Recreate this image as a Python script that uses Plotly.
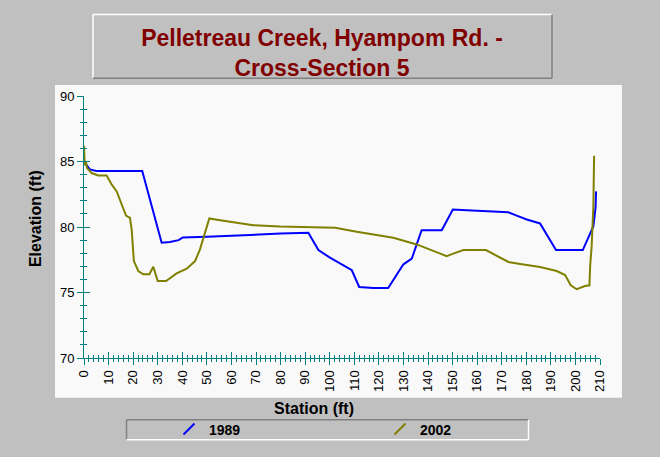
import plotly.graph_objects as go

# ---- data ----
station_1989 = [0, 2.4, 5, 23.7, 31.6, 35, 38.5, 40.2, 50, 60, 70, 80, 91.3, 95.4, 100.1,
                107.6, 109, 112, 117.7, 123.8, 130, 133.4, 137.4, 145.6, 150.1, 155.8, 161.2,
                167.3, 172.7, 176.1, 180.2, 185.6, 192.1, 203, 206, 207.3, 208.2, 208.4]
elev_1989 = [85.0, 84.4, 84.27, 84.27, 78.8, 78.85, 79.0, 79.2, 79.25, 79.35, 79.43, 79.5,
             79.56, 78.24, 77.66, 76.9, 76.7, 75.42, 75.35, 75.35, 77.15, 77.58, 79.76, 79.76,
             81.33, 81.28, 81.23, 81.13, 81.13, 80.87, 80.57, 80.27, 78.24, 78.24, 79.56,
             80.06, 81.5, 82.72]

station_2002 = [0, 0.3, 0.8, 1.2, 3.1, 5.8, 9.2, 11.3, 13.3, 15.3, 17.1, 18.7, 19.4, 20.3,
                22.1, 24.1, 26.6, 28.2, 30, 33.4, 37.7, 41.8, 45.2, 47.2, 51, 55.4, 62.2, 68.9,
                79.8, 87.9, 102.2, 111, 125.9, 135.4, 147.6, 150, 154.4, 163.6, 168, 172.7,
                177.5, 185.6, 192.4, 195.8, 198.1, 200.5, 203.9, 205.7, 206, 206.6, 207.3, 207.6]
elev_2002 = [86.2, 84.7, 85.0, 84.5, 84.12, 83.94, 83.94, 83.23, 82.72, 81.71, 80.87, 80.7,
             79.81, 77.4, 76.64, 76.39, 76.39, 76.97, 75.88, 75.88, 76.46, 76.82, 77.4, 78.29,
             80.65, 80.52, 80.32, 80.14, 80.04, 79.99, 79.94, 79.63, 79.18, 78.67, 77.78,
             77.95, 78.24, 78.24, 77.78, 77.33, 77.18, 76.95, 76.64, 76.33, 75.55, 75.25,
             75.5, 75.55, 77.02, 78.54, 81.58, 85.44]

series_names = ["1989", "2002"]
series_colors = ["#0000FF", "#808000"]

x_range = [0, 210]
y_range = [70, 90]

TEAL = "#008080"
FONT = "Arial, Liberation Sans, sans-serif"

fig = go.Figure()
for name, xs, ys, col in [(series_names[0], station_1989, elev_1989, series_colors[0]),
                          (series_names[1], station_2002, elev_2002, series_colors[1])]:
    fig.add_trace(go.Scatter(x=xs, y=ys, mode="lines", name=name,
                             line=dict(color=col, width=2), showlegend=False))
    # legend-only entry with a slash symbol (no data drawn), placed on the overlay axes
    fig.add_trace(go.Scatter(x=[None], y=[None], mode="markers", name=name,
                             xaxis="x2", yaxis="y2",
                             marker=dict(symbol="line-ne", size=11,
                                         line=dict(color=col, width=2)),
                             showlegend=True))

axis_common = dict(showgrid=False, zeroline=False, tickcolor=TEAL, tickwidth=1)

fig.update_layout(
    width=660, height=457,
    margin=dict(l=84, r=60, t=96, b=97),
    paper_bgcolor="#C0C0C0",
    plot_bgcolor="rgba(0,0,0,0)",
    font=dict(family=FONT, color="black", size=13),
    title=dict(text="Pelletreau Creek, Hyampom Rd. -<br>Cross-Section 5",
               x=322 / 660, xanchor="center", y=1 - 46 / 457, yanchor="middle",
               font=dict(family=FONT, size=23, color="#800000", weight="bold")),
    xaxis=dict(range=x_range, dtick=10, tick0=0, tickangle=-90, ticks="outside", ticklen=6,
               showline=True, linecolor=TEAL, linewidth=1,
               minor=dict(dtick=2, ticks="outside", ticklen=3, tickcolor=TEAL),
               tickfont=dict(size=13), **axis_common),
    yaxis=dict(range=y_range, dtick=5, tick0=70, ticks="outside", ticklen=6,
               showline=True, linecolor=TEAL, linewidth=1,
               minor=dict(dtick=1, ticks="outside", ticklen=3, tickcolor=TEAL),
               tickfont=dict(size=13), **axis_common),
    xaxis2=dict(range=x_range, overlaying="x", anchor="y2", side="bottom", dtick=10, tick0=0,
                ticks="inside", ticklen=6, showticklabels=False, showline=False,
                minor=dict(dtick=2, ticks="inside", ticklen=3, tickcolor=TEAL),
                **axis_common),
    yaxis2=dict(range=y_range, overlaying="y", anchor="x2", side="left", dtick=5, tick0=70,
                ticks="inside", ticklen=6, showticklabels=False, showline=False,
                minor=dict(dtick=1, ticks="inside", ticklen=3, tickcolor=TEAL),
                **axis_common),
    legend=dict(orientation="h", x=(169 - 84) / 516, xanchor="left",
                y=(360 - 432) / 264, yanchor="middle",
                bgcolor="rgba(0,0,0,0)", borderwidth=0,
                font=dict(family=FONT, size=14, color="black", weight="bold"),
                itemwidth=30, entrywidth=166, entrywidthmode="pixels"),
    showlegend=True,
)

def px_x(p):
    return (p - 84) / 516

def px_y(p):
    return (360 - p) / 264

shapes = []
# white plotting panel
shapes.append(dict(type="rect", xref="paper", yref="paper", layer="below",
                   x0=px_x(55), x1=px_x(622), y0=px_y(400), y1=px_y(85),
                   fillcolor="#F9F9F9", line=dict(width=0)))
# title box bevel (raised)
tx0, tx1, ty0, ty1 = px_x(93), px_x(552), px_y(78), px_y(14)
for (a, b, c, d, col) in [(tx0, ty1, tx1, ty1, "#FFFFFF"), (tx0, ty0, tx0, ty1, "#FFFFFF"),
                          (tx0, ty0, tx1, ty0, "#808080"), (tx1, ty0, tx1, ty1, "#808080")]:
    shapes.append(dict(type="line", xref="paper", yref="paper", x0=a, y0=b, x1=c, y1=d,
                       line=dict(color=col, width=1.5)))
# legend box bevel (sunken)
lx0, lx1, ly0, ly1 = px_x(126.5), px_x(528.5), px_y(442.3), px_y(422.3)
for (a, b, c, d, col) in [(lx0, ly1, lx1, ly1, "#808080"), (lx0, ly0, lx0, ly1, "#808080"),
                          (lx0, ly0, lx1, ly0, "#FFFFFF"), (lx1, ly0, lx1, ly1, "#FFFFFF")]:
    shapes.append(dict(type="line", xref="paper", yref="paper", x0=a, y0=b, x1=c, y1=d,
                       line=dict(color=col, width=1.5)))
fig.update_layout(shapes=shapes)

fig.add_annotation(text="Station (ft)", xref="paper", yref="paper", x=px_x(314), y=px_y(411),
                   showarrow=False, xanchor="center", yanchor="middle",
                   font=dict(family=FONT, size=16, color="black", weight="bold"))
fig.add_annotation(text="Elevation (ft)", xref="paper", yref="paper", x=px_x(35), y=px_y(220),
                   showarrow=False, xanchor="center", yanchor="middle", textangle=-90,
                   font=dict(family=FONT, size=16, color="black", weight="bold"))

fig.write_html("out.html", config={"displayModeBar": False},
               post_script="document.body.style.margin='0';")
